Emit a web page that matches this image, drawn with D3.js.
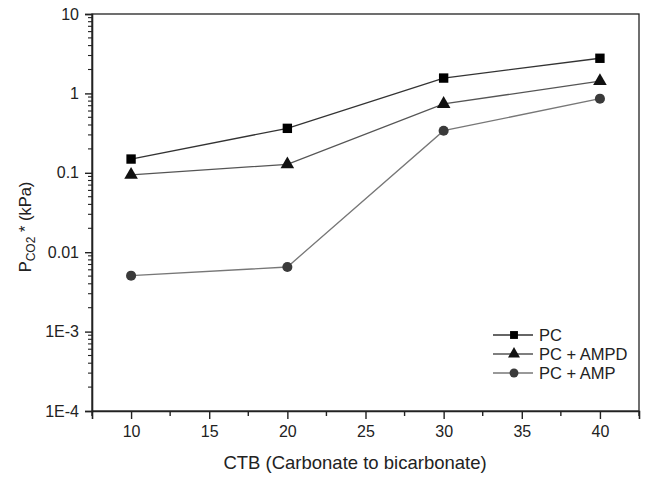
<!DOCTYPE html>
<html><head><meta charset="utf-8">
<script src="https://cdn.jsdelivr.net/npm/d3@7"></script>
<style>body{margin:0;background:#fff}svg{display:block}text{font-family:Arial,"Liberation Sans",sans-serif}</style>
</head><body>
<svg id="c" width="645" height="478"></svg>
<script>
const ctb = [10, 20, 30, 40];
const pc = [0.149, 0.363, 1.56, 2.77];
const pcAmpd = [0.094, 0.128, 0.736, 1.43];
const pcAmp = [0.00506, 0.00651, 0.339, 0.858];
const seriesNames = ["PC", "PC + AMPD", "PC + AMP"];
const xTicks = [10, 15, 20, 25, 30, 35, 40];
const yTicks = [1e-4, 1e-3, 0.01, 0.1, 1, 10];
const yTickLabels = ["1E-4", "1E-3", "0.01", "0.1", "1", "10"];

const svg = d3.select("#c");
const L = 92, R = 639, T = 14, B = 411;
const x = d3.scaleLinear().domain([7.5, 42.5]).range([L, R]);
const y = d3.scaleLog().domain([1e-4, 10]).range([B, T]);

// frame
svg.append("rect").attr("x", L).attr("y", T).attr("width", R - L).attr("height", B - T)
  .attr("fill", "none").attr("stroke", "#222").attr("stroke-width", 1.3);

// x axis
const xMinor = d3.range(7.5, 42.6, 2.5).filter(v => v % 5 !== 0);
const gx = svg.append("g").attr("transform", `translate(0,${B})`);
gx.call(d3.axisBottom(x).tickValues(xTicks).tickSize(8).tickPadding(7).tickFormat(d3.format("d")));
gx.select(".domain").attr("stroke", "#222").attr("stroke-width", 1.6);
gx.selectAll(".tick line").attr("stroke", "#222").attr("stroke-width", 1.4);
gx.selectAll(".tick text").attr("font-size", 16).attr("fill", "#222");
gx.selectAll(".minor").data(xMinor).enter().append("line")
  .attr("x1", d => x(d)).attr("x2", d => x(d)).attr("y1", 0).attr("y2", 5)
  .attr("stroke", "#222").attr("stroke-width", 1.4);

// y axis
const gy = svg.append("g").attr("transform", `translate(${L},0)`);
gy.call(d3.axisLeft(y).tickValues(yTicks).tickSize(7).tickPadding(6)
  .tickFormat((d, i) => yTickLabels[i]));
gy.select(".domain").attr("stroke", "#222").attr("stroke-width", 1.6);
gy.selectAll(".tick line").attr("stroke", "#222").attr("stroke-width", 1.4);
gy.selectAll(".tick text").attr("font-size", 16).attr("fill", "#222");
const yMinor = [];
for (let e = -4; e < 1; e++) for (let m = 2; m <= 9; m++) yMinor.push(m * Math.pow(10, e));
gy.selectAll(".minor").data(yMinor).enter().append("line")
  .attr("x1", 0).attr("x2", -4).attr("y1", d => y(d)).attr("y2", d => y(d))
  .attr("stroke", "#222").attr("stroke-width", 1.1);

// axis titles
svg.append("text").attr("x", 355).attr("y", 469).attr("text-anchor", "middle")
  .attr("font-size", 18.5).attr("fill", "#222").text("CTB (Carbonate to bicarbonate)");
const yt = svg.append("text").attr("transform", "translate(31,227) rotate(-90)")
  .attr("text-anchor", "middle").attr("font-size", 16.5).attr("fill", "#222");
yt.append("tspan").text("P");
yt.append("tspan").attr("font-size", 12).attr("dy", 4).text("CO2");
yt.append("tspan").attr("dy", -4).text(" * (kPa)");

// series
const series = [
  { name: seriesNames[0], vals: pc, line: "#333", fill: "#000", sym: d3.symbolSquare, size: 88 },
  { name: seriesNames[1], vals: pcAmpd, line: "#555", fill: "#111", sym: d3.symbolTriangle, size: 80 },
  { name: seriesNames[2], vals: pcAmp, line: "#777", fill: "#3a3a3a", sym: d3.symbolCircle, size: 80 }
];
const line = d3.line().x(d => x(d[0])).y(d => y(d[1]));
series.forEach(s => {
  const pts = ctb.map((c, i) => [c, s.vals[i]]);
  svg.append("path").datum(pts).attr("d", line).attr("fill", "none")
    .attr("stroke", s.line).attr("stroke-width", 1.3);
  svg.selectAll(null).data(pts).enter().append("path")
    .attr("d", d3.symbol().type(s.sym).size(s.size))
    .attr("transform", d => `translate(${x(d[0])},${y(d[1])})`)
    .attr("fill", s.fill);
});

// legend
const ly = [335, 354, 373];
series.forEach((s, i) => {
  svg.append("line").attr("x1", 493).attr("x2", 533).attr("y1", ly[i]).attr("y2", ly[i])
    .attr("stroke", s.line).attr("stroke-width", 1.3);
  svg.append("path").attr("d", d3.symbol().type(s.sym).size(62))
    .attr("transform", `translate(514,${ly[i]})`).attr("fill", s.fill);
  svg.append("text").attr("x", 539).attr("y", ly[i] + 6).attr("font-size", 16.5)
    .attr("fill", "#222").text(s.name);
});
</script>
</body></html>
